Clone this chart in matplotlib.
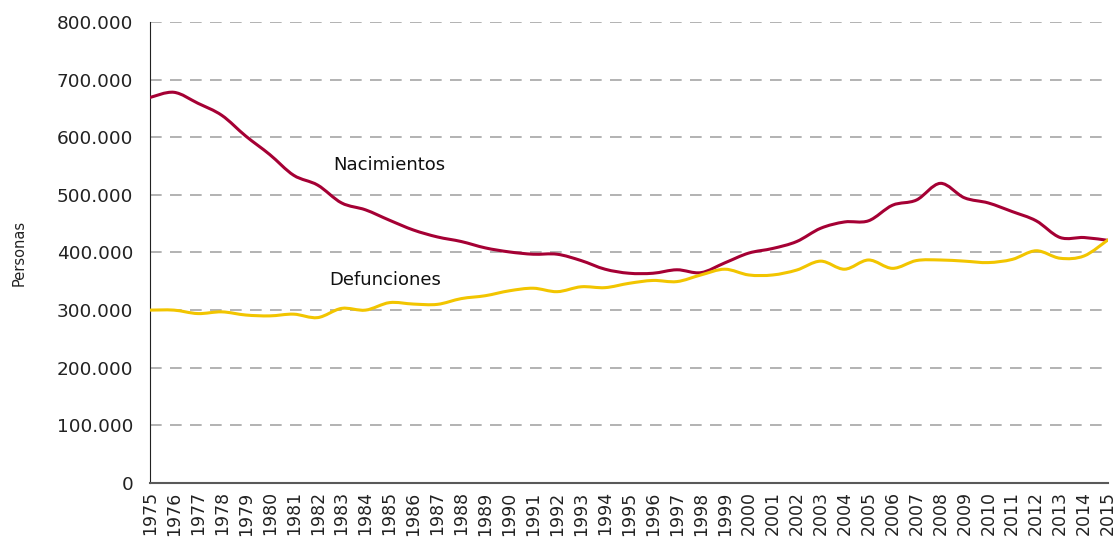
import numpy as np
import matplotlib.pyplot as plt
from matplotlib.path import Path
from matplotlib.patches import PathPatch
from matplotlib.ticker import FuncFormatter

years = list(range(1975, 2016))

# values (personas)
nacimientos = [669000, 678000, 659000, 638000, 602000, 570000, 534000, 517000, 486000, 474000,
               456000, 439000, 427000, 419000, 408000, 401000, 397000, 397000, 386000, 371000,
               364000, 364000, 370000, 365000, 382000, 399000, 407000, 419000, 442000, 453000,
               455000, 482000, 491000, 520000, 495000, 486000, 471000, 455000, 426000, 426000,
               421000]
defunciones = [300000, 300000, 294000, 297000, 291500, 290000, 293000, 287000, 303000, 300000,
               313000, 310500, 310000, 320000, 325000, 333500, 338000, 332000, 340500, 339000,
               346500, 351500, 349500, 361000, 371000, 361000, 361000, 369500, 385000, 371000,
               387000, 372500, 386000, 387000, 385000, 382500, 388000, 403000, 390000, 394000,
               422000]

RED = '#a50034'
YELLOW = '#f2c500'


def smooth_path(x, y):
    # bezier segments like a spreadsheet "smoothed line"
    p = np.column_stack([x, y]).astype(float)
    verts = [p[0]]
    codes = [Path.MOVETO]
    n = len(p)
    for i in range(n - 1):
        p0 = p[i - 1] if i > 0 else p[i]
        p3 = p[i + 2] if i + 2 < n else p[i + 1]
        c1 = p[i] + (p[i + 1] - p0) / 6
        c2 = p[i + 1] - (p3 - p[i]) / 6
        verts += [c1, c2, p[i + 1]]
        codes += [Path.CURVE4] * 3
    return Path(verts, codes)


fig = plt.figure(figsize=(11.2, 5.43), dpi=100)
ax = fig.add_axes([0.1339, 0.1105, 0.8554, 0.849])

for vals, c in [(nacimientos, RED), (defunciones, YELLOW)]:
    ax.add_patch(PathPatch(smooth_path(years, vals), fill=False, edgecolor=c,
                           lw=2.2, capstyle='round', joinstyle='round', zorder=3))

ax.set_xlim(1975, 2015)
ax.set_ylim(0, 800000)
ax.set_xticks(years)
ax.set_xticklabels([str(y) for y in years], rotation=90, fontsize=12.5, color='#222222')
ax.set_yticks(range(0, 800001, 100000))
ax.yaxis.set_major_formatter(FuncFormatter(lambda v, p: f'{int(v):,}'.replace(',', '.')))
ax.tick_params(axis='y', length=0, pad=12, labelsize=13.3, labelcolor='#222222')
ax.tick_params(axis='x', length=0, pad=6)

for v in range(100000, 800001, 100000):
    ax.axhline(v, color='#a6a6a6', lw=1.2, ls=(0, (7, 5)), zorder=1)

for s in ['top', 'right']:
    ax.spines[s].set_visible(False)
ax.spines['left'].set_color('#222222')
ax.spines['bottom'].set_color('#595959')
ax.spines['bottom'].set_linewidth(1.5)

ax.set_ylabel('Personas', fontsize=10.5, color='#222222', labelpad=22)

ax.text(1982.64, 552000, 'Nacimientos', fontsize=13, va='center', ha='left', color='#111111')
ax.text(1982.47, 352000, 'Defunciones', fontsize=13, va='center', ha='left', color='#111111')

fig.savefig('out.png', dpi=100)
